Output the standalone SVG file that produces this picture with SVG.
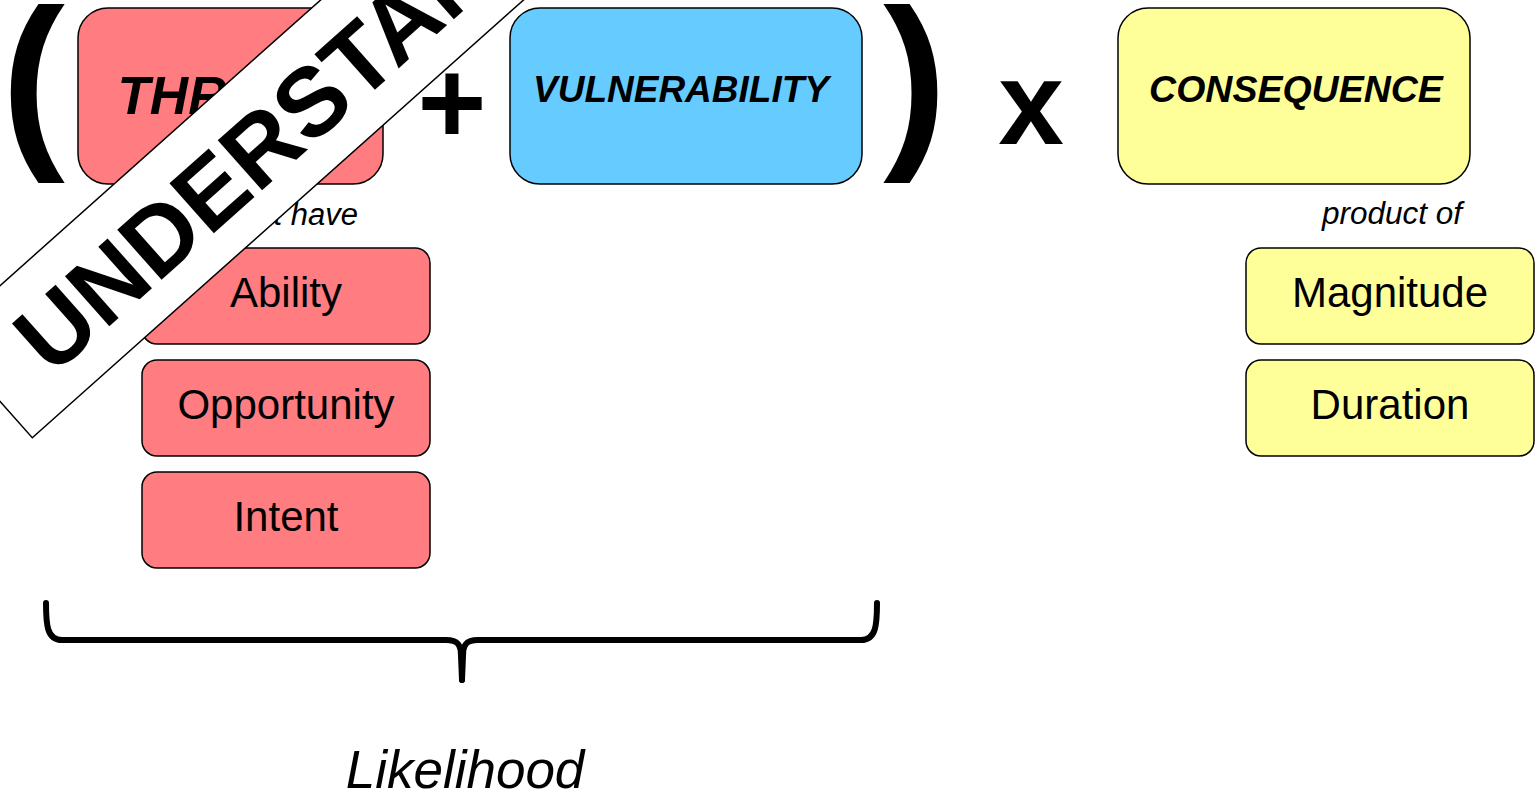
<svg xmlns="http://www.w3.org/2000/svg" width="1537" height="799" viewBox="0 0 1537 799">
  <style>
    .box { stroke: #000; stroke-width: 1.5; }
    .threat { fill: #FF7C80; }
    .vuln { fill: #66CCFF; }
    .cons { fill: #FFFF99; }
    .head { font-family: "Liberation Sans", Arial, sans-serif; font-weight: bold; font-style: italic; fill: #000; text-anchor: middle; }
    .item { font-family: "Liberation Sans", Arial, sans-serif; font-size: 42px; fill: #000; text-anchor: middle; }
    .note { font-family: "Liberation Sans", Arial, sans-serif; font-style: italic; fill: #000; }
    .op { font-family: "Liberation Sans", Arial, sans-serif; font-weight: bold; fill: #000; text-anchor: middle; }
    .brace { fill: none; stroke: #000; stroke-width: 6; stroke-linecap: round; stroke-linejoin: round; }
  </style>

  <!-- operators of the risk formula -->
  <g id="operators">
    <text class="op" x="33" y="143" font-size="191">(</text>
    <text class="op" x="452" y="143" font-size="118">+</text>
    <text class="op" x="915" y="143" font-size="191">)</text>
    <text class="op" x="1031" y="144" font-size="118">x</text>
  </g>

  <!-- main terms -->
  <g id="threat">
    <rect class="box threat" x="78" y="8" width="305" height="176" rx="30" ry="30"/>
    <text class="head" x="223" y="114" font-size="53">THREAT</text>
  </g>
  <g id="vulnerability">
    <rect class="box vuln" x="510" y="8" width="352" height="176" rx="30" ry="30"/>
    <text class="head" x="681" y="102" font-size="37">VULNERABILITY</text>
  </g>
  <g id="consequence">
    <rect class="box cons" x="1118" y="8" width="352" height="176" rx="30" ry="30"/>
    <text class="head" x="1296" y="102" font-size="37.5">CONSEQUENCE</text>
  </g>

  <!-- threat components -->
  <g id="threat-note">
    <text class="note" x="358" y="225" font-size="31" text-anchor="end">must have</text>
  </g>
  <g id="ability">
    <rect class="box threat" x="142" y="248" width="288" height="96" rx="15" ry="15"/>
    <text class="item" x="286" y="307">Ability</text>
  </g>
  <g id="opportunity">
    <rect class="box threat" x="142" y="360" width="288" height="96" rx="15" ry="15"/>
    <text class="item" x="286" y="419">Opportunity</text>
  </g>
  <g id="intent">
    <rect class="box threat" x="142" y="472" width="288" height="96" rx="15" ry="15"/>
    <text class="item" x="286" y="531">Intent</text>
  </g>

  <!-- consequence components -->
  <g id="consequence-note">
    <text class="note" x="1462" y="224" font-size="31.5" text-anchor="end">product of</text>
  </g>
  <g id="magnitude">
    <rect class="box cons" x="1246" y="248" width="288" height="96" rx="15" ry="15"/>
    <text class="item" x="1390" y="307">Magnitude</text>
  </g>
  <g id="duration">
    <rect class="box cons" x="1246" y="360" width="288" height="96" rx="15" ry="15"/>
    <text class="item" x="1390" y="419">Duration</text>
  </g>

  <!-- brace grouping threat + vulnerability -->
  <g id="likelihood-brace">
    <path class="brace" d="M46,603 C46,625 47,640 62,640 L446,640 C458,640 461,645 461,656 L462,680"/>
    <path class="brace" d="M877,603 C877,625 876,640 861,640 L478,640 C466,640 463,645 463,656 L462,680"/>
  </g>
  <g id="likelihood">
    <text class="note" x="465" y="788" font-size="53" text-anchor="middle">Likelihood</text>
  </g>

  <!-- diagonal banner across the top-left corner -->
  <g id="banner" transform="translate(32.3,437.7) rotate(-41.7)">
    <rect x="0" y="-135" width="1000" height="135" fill="#fff" stroke="#000" stroke-width="1.5"/>
    <text x="55" y="-32" font-family="Liberation Sans, Arial, sans-serif" font-weight="bold" font-size="97" fill="#000">UNDERSTAND</text>
  </g>
</svg>
